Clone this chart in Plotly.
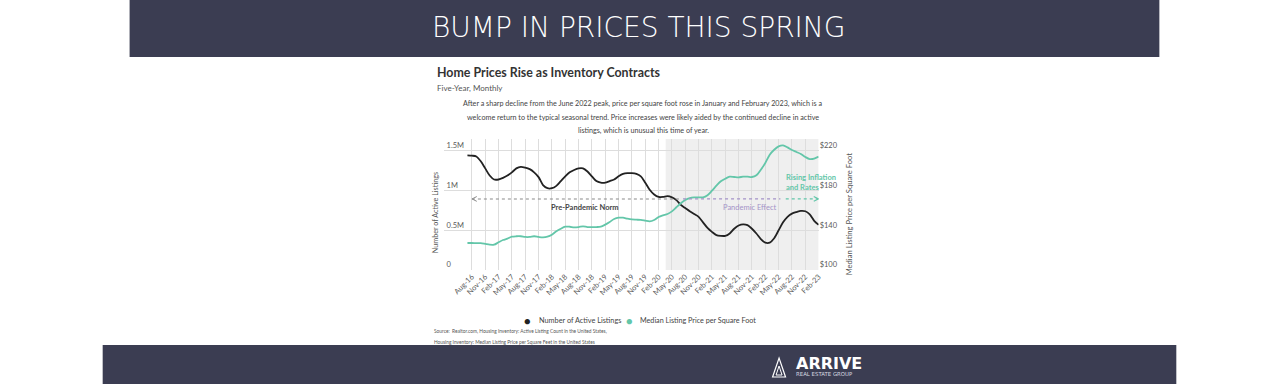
import pandas as pd
import plotly.graph_objects as go

# ---------------- data ----------------
MONTHS = pd.period_range("2016-07", "2023-02", freq="M").strftime("%b-%y").tolist()

LISTINGS_K = [
    1444, 1440, 1430, 1370, 1280, 1190, 1140, 1140, 1160, 1190,
    1230, 1280, 1300, 1290, 1270, 1230, 1170, 1070, 1030, 1030,
    1060, 1120, 1180, 1230, 1260, 1280, 1280, 1240, 1180, 1120,
    1100, 1100, 1120, 1140, 1180, 1210, 1220, 1220, 1210, 1180,
    1100, 1010, 950, 920, 920, 930, 915, 880, 820, 780,
    740, 705, 670, 600, 530, 480, 440, 430, 430, 460,
    520, 560, 575, 565, 520, 460, 390, 345, 345, 400,
    500, 600, 670, 710, 730, 745, 740, 700, 620, 570,
]

PRICE_SQFT = [
    127.2, 127.2, 127.0, 127.0, 126.3, 125.5, 125.5, 127.9, 130.2, 131.6,
    133.6, 134.0, 134.0, 133.3, 133.3, 134.0, 133.3, 132.9, 133.6, 135.6,
    139.0, 141.6, 143.6, 143.6, 143.0, 143.3, 144.0, 143.3, 143.3, 143.3,
    143.6, 145.7, 148.4, 151.4, 152.7, 152.7, 151.7, 151.0, 150.7, 150.4,
    149.7, 149.0, 150.4, 153.4, 155.1, 156.4, 159.1, 163.2, 167.2, 170.5,
    172.5, 173.2, 173.2, 173.2, 175.3, 179.9, 184.9, 189.4, 192.0, 194.0,
    193.7, 193.4, 194.0, 194.0, 193.7, 195.4, 201.1, 207.8, 216.2, 221.2,
    224.6, 225.6, 223.6, 220.9, 218.9, 216.9, 213.9, 211.8, 212.2, 214.2,
]

TICK_LABELS = [
    "Aug-16", "Nov-16", "Feb-17", "May-17", "Aug-17", "Nov-17", "Feb-18",
    "May-18", "Aug-18", "Nov-18", "Feb-19", "May-19", "Aug-19", "Nov-19",
    "Feb-20", "May-20", "Aug-20", "Nov-20", "Feb-21", "May-21", "Aug-21",
    "Nov-21", "Feb-22", "May-22", "Aug-22", "Nov-22", "Feb-23",
]
LEFT_TICKS = [0, 500_000, 1_000_000, 1_500_000]
LEFT_TICK_TEXT = ["0", "0.5M", "1M", "1.5M"]
RIGHT_TICKS = [100, 140, 180, 220]
RIGHT_TICK_TEXT = ["$100", "$140", "$180", "$220"]

PRE_PANDEMIC_NORM = 895_000
PANDEMIC_START = "Mar-20"
NORM_ARROW_START = "Aug-16"
NORM_END = "Jul-20"

# ---------------- helpers ----------------
W, H = 1280, 384
def px(x):
    return x / W
def py(y):
    return 1 - y / H

x_idx = list(range(len(MONTHS)))
listings = [v * 1000 for v in LISTINGS_K]
tickvals = [MONTHS.index(t) for t in TICK_LABELS]

NAVY = "#3b3d52"
TEAL = "#63c6a9"
BLACK = "#222222"
PURPLE = "#a493c8"
FONT = "Lato"

fig = go.Figure()
fig.add_trace(go.Scatter(
    x=x_idx, y=listings, mode="lines", name="Number of Active Listings",
    line=dict(color=BLACK, width=1.8, shape="spline", smoothing=0.8),
    yaxis="y", hoverinfo="skip",
))
fig.add_trace(go.Scatter(
    x=x_idx, y=PRICE_SQFT, mode="lines", name="Median Listing Price per Square Foot",
    line=dict(color=TEAL, width=1.8, shape="spline", smoothing=0.8),
    yaxis="y2", hoverinfo="skip",
))

last = len(MONTHS) - 1
x_left = -5.36
tickfont = dict(family=FONT, size=7.5, color="#5a5a5a")

fig.update_layout(
    width=W, height=H,
    margin=dict(l=0, r=0, t=0, b=0),
    paper_bgcolor="white", plot_bgcolor="rgba(0,0,0,0)",
    showlegend=False,
    xaxis=dict(
        domain=[px(445), px(821.2)], range=[x_left, last],
        tickvals=tickvals, ticktext=TICK_LABELS, tickangle=-45,
        showgrid=True, gridcolor="#dddddd", gridwidth=1,
        zeroline=False, showline=False, ticks="", tickfont=tickfont,
    ),
    yaxis=dict(
        domain=[py(270), py(139)], range=[0, 1_650_000],
        tickvals=LEFT_TICKS, ticktext=LEFT_TICK_TEXT,
        ticklabelposition="inside top",
        showgrid=True, gridcolor="#dddddd", gridwidth=1,
        zeroline=False, showline=False, ticks="", tickfont=tickfont,
    ),
    yaxis2=dict(
        overlaying="y", side="right", anchor="x", range=[100, 232],
        tickvals=RIGHT_TICKS, ticktext=RIGHT_TICK_TEXT,
        ticklabelposition="outside top",
        showgrid=False, zeroline=False, showline=False, ticks="",
        tickfont=tickfont,
    ),
)

shapes = []
# banners
shapes.append(dict(type="rect", xref="paper", yref="paper", x0=px(130), x1=px(1163),
                   y0=py(57), y1=py(0), fillcolor=NAVY, line=dict(width=0), layer="below"))
shapes.append(dict(type="rect", xref="paper", yref="paper", x0=px(103), x1=px(1180),
                   y0=py(384), y1=py(345), fillcolor=NAVY, line=dict(width=0), layer="below"))
# pandemic shading
ps = MONTHS.index(PANDEMIC_START) + 0.6
shapes.append(dict(type="rect", xref="x", yref="y domain", x0=ps, x1=last, y0=0, y1=1,
                   fillcolor="#efefef", line=dict(width=0), layer="below"))
# dotted lines
a0 = MONTHS.index(NORM_ARROW_START)
n1 = MONTHS.index(NORM_END) + 0.2
e1 = MONTHS.index("Jun-22") - 0.6
shapes.append(dict(type="line", xref="x", yref="y", x0=a0, x1=n1,
                   y0=PRE_PANDEMIC_NORM, y1=PRE_PANDEMIC_NORM,
                   line=dict(color="#8a8a8a", width=1.1, dash="dot")))
shapes.append(dict(type="line", xref="x", yref="y", x0=n1 + 0.3, x1=e1,
                   y0=PRE_PANDEMIC_NORM, y1=PRE_PANDEMIC_NORM,
                   line=dict(color=PURPLE, width=1.3, dash="dot")))
shapes.append(dict(type="line", xref="x", yref="y", x0=e1 + 1.2, x1=last,
                   y0=PRE_PANDEMIC_NORM, y1=PRE_PANDEMIC_NORM,
                   line=dict(color=TEAL, width=1.3, dash="dot")))
# chevrons
dx = 1.1
dy = 30_000
yn = PRE_PANDEMIC_NORM
shapes.append(dict(type="path", xref="x", yref="y",
                   path=f"M {a0+dx},{yn+dy} L {a0+0.05},{yn} L {a0+dx},{yn-dy}",
                   line=dict(color="#8a8a8a", width=1)))
shapes.append(dict(type="path", xref="x", yref="y",
                   path=f"M {last-dx},{yn+dy} L {last-0.05},{yn} L {last-dx},{yn-dy}",
                   line=dict(color=TEAL, width=1.2)))
# logo triangle
shapes.append(dict(type="path", xref="paper", yref="paper",
                   path=f"M {px(775)},{py(377)} L {px(781.5)},{py(358)} L {px(788)},{py(377)} Z",
                   line=dict(color="white", width=1.2)))
shapes.append(dict(type="path", xref="paper", yref="paper",
                   path=f"M {px(778.5)},{py(375)} L {px(781.5)},{py(366)} L {px(784.5)},{py(375)} Z",
                   line=dict(color="white", width=1)))
fig.update_layout(shapes=shapes)

ann = []
def text(x, y, s, size, color="#444", xanchor="left", family=FONT, weight=None, **kw):
    f = dict(family=family, size=size, color=color)
    if weight:
        f["weight"] = weight
    ann.append(dict(xref="paper", yref="paper", x=px(x), y=py(y), text=s, showarrow=False,
                    xanchor=xanchor, yanchor="middle", font=f, **kw))

# banner title
text(641, 28, "BUMP IN PRICES THIS SPRING", 28, color="white", xanchor="center",
     family="DejaVu Sans", weight=300)
# chart title
text(436, 72, "Home Prices Rise as Inventory Contracts", 12.4, color="#333", weight=700)
text(436, 88, "Five-Year, Monthly", 8, color="#555")
text(645.5, 104, "After a sharp decline from the June 2022 peak, price per square foot rose in January and February 2023, which is a",
     7.2, color="#444", xanchor="center")
text(645.5, 117.5, "welcome return to the typical seasonal trend. Price increases were likely aided by the continued decline in active",
     7.2, color="#444", xanchor="center")
text(645.5, 131, "listings, which is unusual this time of year.", 7.2, color="#444", xanchor="center")
# axis titles
text(436.5, 213, "Number of Active Listings", 7.2, color="#555", xanchor="center", textangle=-90)
text(852, 214, "Median Listing Price per Square Foot", 7.6, color="#555", xanchor="center", textangle=-90)
# chart annotations
ann.append(dict(xref="x", yref="y", x=26.4, y=785_000, text="Pre-Pandemic Norm", showarrow=False,
                xanchor="center", yanchor="middle", font=dict(family=FONT, size=7.5, color="#444", weight=700)))
ann.append(dict(xref="x", yref="y", x=63.6, y=785_000, text="Pandemic Effect", showarrow=False,
                xanchor="center", yanchor="middle", font=dict(family=FONT, size=7.5, color=PURPLE)))
ann.append(dict(xref="x", yref="y", x=71.3, y=1_168_000, text="Rising Inflation", showarrow=False,
                xanchor="left", yanchor="middle", font=dict(family=FONT, size=7.5, color=TEAL, weight=700)))
ann.append(dict(xref="x", yref="y", x=71.3, y=1_033_000, text="and Rates", showarrow=False,
                xanchor="left", yanchor="middle", font=dict(family=FONT, size=7.5, color=TEAL, weight=700)))
# legend
text(529, 320, "●", 11, color=BLACK, xanchor="center")
text(539, 320.5, "Number of Active Listings", 7.3, color="#444")
text(631, 320, "●", 11, color=TEAL, xanchor="center")
text(640, 320.5, "Median Listing Price per Square Foot", 7.2, color="#444")
# source
text(433, 330.5, "Source:  Realtor.com, Housing Inventory: Active Listing Count in the United States,", 4.8, color="#555")
text(433, 342, "Housing Inventory: Median Listing Price per Square Feet in the United States", 4.8, color="#555")
# footer logo
text(796, 363, "ARRIVE", 16, color="white", family="DejaVu Sans", weight=700)
text(796, 373.5, "REAL ESTATE GROUP", 5.4, color="#d8d8e0", family="DejaVu Sans")

fig.update_layout(annotations=ann)
fig.write_html(
    "out.html",
    config={"displayModeBar": False},
    post_script="document.body.style.margin='0';document.body.style.padding='0';",
)
